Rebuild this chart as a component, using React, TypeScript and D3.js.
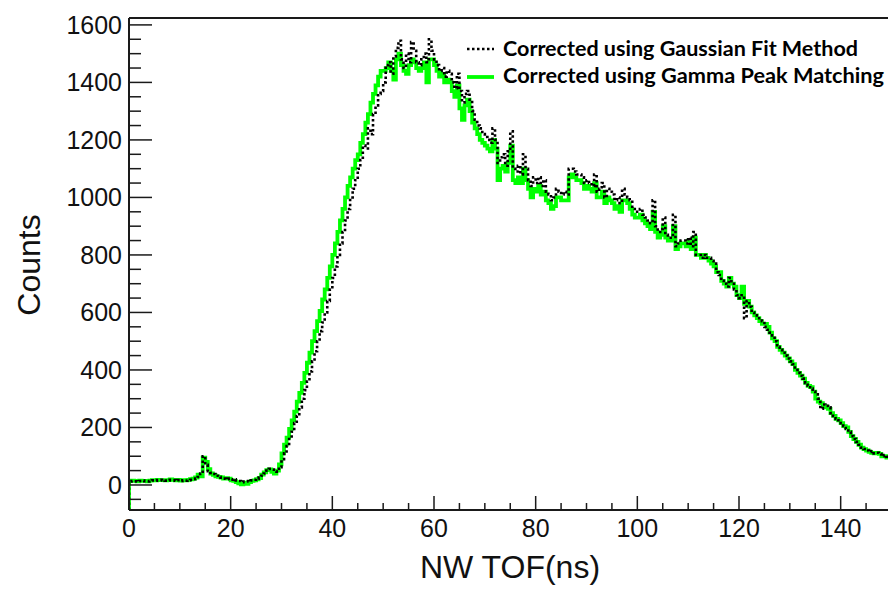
import React from "react";
import * as d3 from "d3";

// Histogram binning (ns)
const BIN_START = 0;
const BIN_WIDTH = 0.5;

// Corrected using Gaussian Fit Method (0.5 ns bins, 0–150 ns)
const gaussianFit: number[] = [
  12,14,13,12,14,15,13,12,14,16,15,17,18,16,15,16,18,17,15,17,
  14,16,15,17,18,20,22,28,40,100,70,48,42,38,32,28,25,22,20,22,
  18,20,16,14,10,12,14,12,16,18,22,26,32,40,50,56,54,48,46,62,
  90,110,135,160,185,215,240,270,300,330,360,395,430,465,500,535,565,600,640,680,
  720,760,800,840,880,920,960,1000,1030,1060,1100,1130,1180,1170,1240,1220,1290,1320,1360,1370,
  1400,1460,1470,1430,1490,1520,1545,1480,1450,1500,1470,1540,1510,1470,1460,1480,1500,1470,1550,1510,
  1480,1460,1440,1450,1420,1440,1430,1400,1380,1430,1370,1330,1360,1370,1340,1300,1270,1250,1240,1220,
  1210,1200,1190,1240,1200,1120,1140,1150,1110,1160,1230,1100,1090,1110,1080,1150,1100,1060,1040,1070,
  1050,1070,1040,1060,1020,1010,990,1000,1030,1020,1010,1020,1010,1100,1100,1090,1080,1080,1070,1050,
  1060,1050,1040,1080,1020,1030,1050,1000,1030,1020,1010,990,1000,980,1030,1010,1000,990,960,950,
  950,960,940,930,920,910,990,900,880,890,930,870,860,860,940,830,840,850,850,840,
  860,830,880,800,800,790,800,790,790,780,770,740,730,710,700,690,720,700,680,660,
  650,660,580,640,620,600,590,580,580,570,550,540,530,520,500,480,470,460,450,440,
  430,420,400,390,380,370,355,345,335,325,315,300,265,280,275,270,250,240,230,225,
  215,205,195,185,170,160,150,140,130,125,120,115,118,110,112,108,100,104,98,95,
];

// Corrected using Gamma Peak Matching (0.5 ns bins, 0–150 ns)
const gammaPeak: number[] = [
  14,15,14,13,15,14,14,13,15,17,16,18,17,17,16,17,19,18,16,18,
  15,17,16,18,20,22,26,36,30,95,80,55,40,35,30,28,26,22,24,22,
  16,14,10,6,2,8,4,10,14,16,20,24,36,44,52,54,46,40,50,72,
  110,140,165,195,225,255,290,320,355,390,425,460,500,535,570,605,645,680,720,760,
  800,840,880,920,960,1000,1040,1070,1100,1130,1150,1190,1220,1260,1290,1330,1360,1390,1420,1440,
  1440,1450,1470,1440,1410,1480,1500,1460,1440,1430,1460,1480,1470,1450,1440,1450,1470,1400,1480,1480,
  1460,1440,1420,1430,1400,1410,1400,1370,1350,1390,1310,1270,1320,1340,1300,1260,1240,1220,1200,1190,
  1180,1170,1160,1200,1170,1060,1100,1110,1090,1120,1180,1060,1050,1070,1050,1100,1060,1030,1000,1030,
  1020,1040,1010,1020,990,980,960,970,1000,1000,990,990,990,1070,1080,1070,1060,1060,1050,1030,
  1040,1030,1020,1050,1000,1000,1020,980,1000,990,980,960,970,950,990,990,980,960,940,930,
  930,940,920,910,900,890,950,880,860,870,900,860,850,850,900,820,830,840,840,830,
  850,820,860,800,800,790,800,790,780,770,760,740,740,710,700,690,720,700,690,660,
  650,690,630,640,620,600,590,580,570,560,560,550,530,510,500,480,470,460,450,440,
  430,420,400,390,380,370,355,345,340,325,300,290,285,275,270,265,250,240,230,225,
  215,205,200,185,170,160,150,140,130,125,120,115,112,110,112,108,100,100,95,95,
];

const xMajorTicks = [0, 20, 40, 60, 80, 100, 120, 140];
const yMajorTicks = [0, 200, 400, 600, 800, 1000, 1200, 1400, 1600];
const legendLabels = [
  "Corrected using Gaussian Fit Method",
  "Corrected using Gamma Peak Matching",
];

const W = 888;
const H = 589;
const X_DOMAIN: [number, number] = [0, 150];
const Y_DOMAIN: [number, number] = [-87, 1624];
const L = 129, R = 891.5, T = 18, B = 510;

export default function App() {
  const x = d3.scaleLinear().domain(X_DOMAIN).range([L, R]);
  const y = d3.scaleLinear().domain(Y_DOMAIN).range([B, T]);

  const histPath = (vals: number[]) => {
    const pts: [number, number][] = [[BIN_START, Y_DOMAIN[0]]];
    vals.forEach((v, i) => pts.push([BIN_START + i * BIN_WIDTH, v]));
    pts.push([BIN_START + vals.length * BIN_WIDTH, vals[vals.length - 1]]);
    return d3
      .line<[number, number]>()
      .x((d) => x(d[0]))
      .y((d) => y(d[1]))
      .curve(d3.curveStepAfter)(pts) as string;
  };

  const yMinor = d3.range(-50, 1601, 50).filter((v) => v % 200 !== 0);
  const xMinor = d3.range(5, 150, 5).filter((v) => v % 20 !== 0);

  const axisColor = "#1a1a1a";
  const tickFont = "'Liberation Sans', Arial, Helvetica, sans-serif";

  return (
    <svg
      width={W}
      height={H}
      style={{ position: "absolute", left: 0, top: 0, display: "block", background: "#fff" }}
    >
      <defs>
        <clipPath id="plotClip">
          <rect x={L} y={T} width={R - L} height={B - T} />
        </clipPath>
      </defs>
      <rect x={0} y={0} width={W} height={H} fill="#fff" />

      {/* histograms */}
      <g clipPath="url(#plotClip)">
        <path d={histPath(gammaPeak)} fill="none" stroke="#00ff00" strokeWidth={3.8} />
        <path
          d={histPath(gaussianFit)}
          fill="none"
          stroke="#000"
          strokeWidth={2.6}
          strokeDasharray="2.5 2.5"
        />
      </g>

      {/* frame */}
      <line x1={L} x2={R} y1={T} y2={T} stroke={axisColor} strokeWidth={2} />
      <line x1={L} x2={L} y1={T} y2={B} stroke={axisColor} strokeWidth={2} />
      <line x1={L} x2={R} y1={B} y2={B} stroke={axisColor} strokeWidth={2} />

      {/* y ticks */}
      {yMajorTicks.map((v) => (
        <g key={"ym" + v}>
          <line x1={L} x2={L + 23} y1={y(v)} y2={y(v)} stroke={axisColor} strokeWidth={1.5} />
          <text
            x={L - 7}
            y={y(v)}
            dy="0.36em"
            textAnchor="end"
            fontFamily={tickFont}
            fontSize={25}
            fill="#111"
          >
            {v}
          </text>
        </g>
      ))}
      {yMinor.map((v) => (
        <line key={"yn" + v} x1={L} x2={L + 12} y1={y(v)} y2={y(v)} stroke={axisColor} strokeWidth={1.5} />
      ))}

      {/* x ticks */}
      {xMajorTicks.map((v) => (
        <g key={"xm" + v}>
          <line x1={x(v)} x2={x(v)} y1={B} y2={B - 14} stroke={axisColor} strokeWidth={1.5} />
          <text
            x={x(v)}
            y={537}
            textAnchor="middle"
            fontFamily={tickFont}
            fontSize={25}
            fill="#111"
          >
            {v}
          </text>
        </g>
      ))}
      {xMinor.map((v) => (
        <line key={"xn" + v} x1={x(v)} x2={x(v)} y1={B} y2={B - 7} stroke={axisColor} strokeWidth={1.5} />
      ))}

      {/* axis titles */}
      <text
        x={510}
        y={578}
        textAnchor="middle"
        fontFamily={tickFont}
        fontSize={32}
        fill="#111"
      >
        NW TOF(ns)
      </text>
      <text
        transform={`translate(40,265) rotate(-90)`}
        textAnchor="middle"
        fontFamily={tickFont}
        fontSize={32}
        fill="#111"
      >
        Counts
      </text>

      {/* legend */}
      <line x1={467} x2={494} y1={49} y2={49} stroke="#000" strokeWidth={2.6} strokeDasharray="2.5 2.5" />
      <text
        x={503}
        y={56}
        fontFamily="Lato, 'Open Sans', sans-serif"
        fontWeight={700}
        fontSize={21}
        textLength={355}
        lengthAdjust="spacingAndGlyphs"
        fill="#000"
      >
        {legendLabels[0]}
      </text>
      <line x1={467} x2={494} y1={77} y2={77} stroke="#00ff00" strokeWidth={3.8} />
      <text
        x={503}
        y={83}
        fontFamily="Lato, 'Open Sans', sans-serif"
        fontWeight={700}
        fontSize={21}
        textLength={381}
        lengthAdjust="spacingAndGlyphs"
        fill="#000"
      >
        {legendLabels[1]}
      </text>
    </svg>
  );
}
